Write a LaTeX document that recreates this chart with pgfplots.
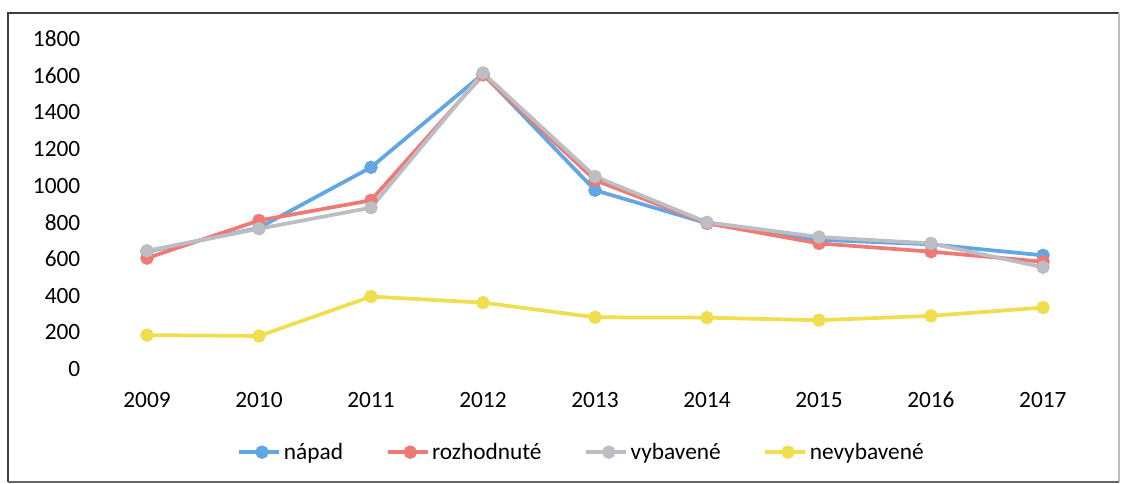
\documentclass[border=0pt]{standalone}
\usepackage{pgfplots}
\pgfplotsset{compat=1.18}
\usepackage{fontspec}
\setmainfont{Carlito}
\definecolor{cBlue}{RGB}{98,166,226}
\definecolor{cRed}{RGB}{238,122,118}
\definecolor{cGray}{RGB}{188,190,196}
\definecolor{cYellow}{RGB}{240,222,80}
\def\px{0.75pt}
\begin{document}
\begin{tikzpicture}
\fill[white] (0,0) rectangle (1122*\px,-484*\px);
\draw[black!75,line width=2pt] (8*\px,-482*\px) -- (8*\px,-13*\px) -- (1119*\px,-13*\px);
\draw[black!25,line width=1pt] (1119*\px,-13*\px) -- (1119*\px,-482*\px);
\draw[black!60,line width=1.5pt] (8*\px,-482*\px) -- (1119*\px,-482*\px);
\begin{axis}[
  at={(91*\px,-369*\px)}, anchor=south west,
  scale only axis,
  width=1008*\px, height=330*\px,
  xmin=2008.5, xmax=2017.5,
  ymin=0, ymax=1800,
  xtick={2009,...,2017},
  ytick={0,200,...,1800},
  xticklabel style={/pgf/number format/1000 sep={}},
  yticklabel style={/pgf/number format/1000 sep={}},
  /pgf/number format/assume math mode=true,
  ticklabel style={font=\fontsize{17.5}{20}\selectfont},
  xticklabel style={yshift=-24*\px, text height=0.7em, text depth=0.1em},
  yticklabel style={xshift=-6*\px},
  axis line style={draw=none},
  major tick length=0pt,
  legend style={at={(0.487,-0.252)}, anchor=center, legend columns=4, draw=none,
    font=\fontsize{17.5}{20}\selectfont,
    /tikz/every even column/.append style={column sep=30pt}},
  legend image code/.code={\draw[#1,line width=2.8pt] (0pt,0pt) -- (30pt,0pt); \draw[#1,mark repeat=1] plot coordinates {(17pt,0pt)};},
  every axis plot/.append style={line width=2.8pt, mark=*, mark size=3.6pt},
]
\addplot[cBlue, mark options={fill=cBlue}] coordinates {(2009,640) (2010,770) (2011,1100) (2012,1610) (2013,975) (2014,795) (2015,705) (2016,680) (2017,620)};
\addplot[cRed, mark options={fill=cRed}] coordinates {(2009,605) (2010,810) (2011,920) (2012,1605) (2013,1030) (2014,795) (2015,685) (2016,640) (2017,585)};
\addplot[cGray, mark options={fill=cGray}] coordinates {(2009,645) (2010,765) (2011,880) (2012,1615) (2013,1050) (2014,800) (2015,720) (2016,685) (2017,555)};
\addplot[cYellow, mark options={fill=cYellow}] coordinates {(2009,185) (2010,180) (2011,395) (2012,362) (2013,282) (2014,280) (2015,266) (2016,290) (2017,335)};
\legend{nápad,rozhodnuté,vybavené,nevybavené}
\end{axis}
\end{tikzpicture}
\end{document}
